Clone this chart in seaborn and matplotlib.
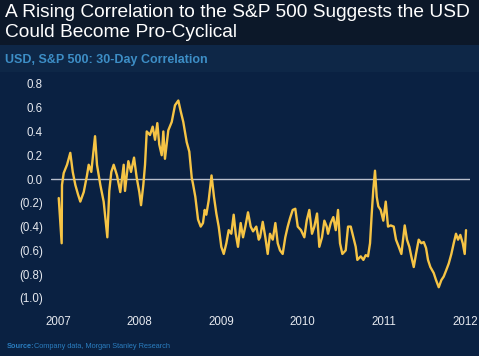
import numpy as np
import pandas as pd
import matplotlib.pyplot as plt
import seaborn as sns
from matplotlib.patches import Rectangle

# --- Data (decimal year, 30-day correlation) ---
years = [
    2007.009, 2007.045, 2007.049, 2007.070, 2007.111, 2007.151, 2007.181, 2007.213,
    2007.246, 2007.274, 2007.316, 2007.356, 2007.377, 2007.409, 2007.455, 2007.479,
    2007.520, 2007.561, 2007.606, 2007.630, 2007.655, 2007.684, 2007.725, 2007.765,
    2007.807, 2007.823, 2007.864, 2007.897, 2007.934, 2007.967, 2007.999, 2008.020,
    2008.048, 2008.069, 2008.090, 2008.130, 2008.163, 2008.192, 2008.220, 2008.244,
    2008.274, 2008.294, 2008.314, 2008.355, 2008.397, 2008.437, 2008.478, 2008.507,
    2008.539, 2008.581, 2008.613, 2008.643, 2008.658, 2008.687, 2008.720, 2008.753,
    2008.781, 2008.802, 2008.822, 2008.851, 2008.886, 2008.916, 2008.945, 2008.974,
    2009.006, 2009.036, 2009.068, 2009.097, 2009.129, 2009.158, 2009.183, 2009.211,
    2009.244, 2009.273, 2009.301, 2009.334, 2009.367, 2009.396, 2009.436, 2009.466,
    2009.482, 2009.515, 2009.547, 2009.576, 2009.604, 2009.638, 2009.670, 2009.699,
    2009.727, 2009.760, 2009.792, 2009.822, 2009.850, 2009.883, 2009.915, 2009.945,
    2009.985, 2010.026, 2010.055, 2010.087, 2010.120, 2010.149, 2010.182, 2010.210,
    2010.243, 2010.272, 2010.301, 2010.317, 2010.350, 2010.382, 2010.412, 2010.440,
    2010.464, 2010.493, 2010.534, 2010.563, 2010.596, 2010.628, 2010.657, 2010.677,
    2010.719, 2010.751, 2010.780, 2010.808, 2010.833, 2010.854, 2010.873, 2010.894,
    2010.915, 2010.935, 2010.964, 2010.996, 2011.026, 2011.054, 2011.087, 2011.124,
    2011.152, 2011.186, 2011.218, 2011.259, 2011.287, 2011.316, 2011.340, 2011.370,
    2011.398, 2011.431, 2011.463, 2011.493, 2011.521, 2011.545, 2011.574, 2011.615,
    2011.644, 2011.677, 2011.709, 2011.738, 2011.767, 2011.800, 2011.832, 2011.861,
    2011.889, 2011.914, 2011.942, 2011.972, 2011.996, 2012.012,
]
correlation = [
    -0.16, -0.54, -0.05, 0.05, 0.12, 0.22, 0.06, -0.05,
    -0.13, -0.19, -0.11, 0.03, 0.12, 0.06, 0.36, 0.12,
    -0.05, -0.19, -0.49, -0.10, 0.06, 0.12, 0.03, -0.11,
    0.12, -0.10, 0.15, 0.06, 0.18, 0.01, -0.11, -0.22,
    -0.05, 0.12, 0.40, 0.37, 0.44, 0.33, 0.47, 0.29,
    0.20, 0.40, 0.17, 0.41, 0.48, 0.62, 0.66, 0.57,
    0.48, 0.31, 0.23, 0.01, -0.04, -0.15, -0.34, -0.40,
    -0.37, -0.26, -0.30, -0.18, 0.03, -0.15, -0.29, -0.40,
    -0.57, -0.63, -0.54, -0.43, -0.46, -0.30, -0.46, -0.57,
    -0.37, -0.49, -0.40, -0.28, -0.40, -0.44, -0.40, -0.51,
    -0.49, -0.36, -0.49, -0.63, -0.46, -0.51, -0.37, -0.54,
    -0.60, -0.63, -0.49, -0.40, -0.33, -0.26, -0.25, -0.40,
    -0.43, -0.49, -0.35, -0.26, -0.46, -0.40, -0.29, -0.57,
    -0.49, -0.35, -0.40, -0.46, -0.37, -0.32, -0.43, -0.26,
    -0.54, -0.63, -0.60, -0.40, -0.40, -0.49, -0.57, -0.68,
    -0.65, -0.68, -0.64, -0.65, -0.54, -0.29, -0.09, 0.07,
    -0.15, -0.23, -0.26, -0.35, -0.19, -0.40, -0.39, -0.40,
    -0.51, -0.57, -0.63, -0.39, -0.51, -0.57, -0.65, -0.74,
    -0.63, -0.51, -0.54, -0.53, -0.58, -0.68, -0.74, -0.79,
    -0.85, -0.91, -0.85, -0.82, -0.77, -0.71, -0.63, -0.54,
    -0.46, -0.51, -0.47, -0.54, -0.63, -0.43,
]
y_ticks = [0.8, 0.6, 0.4, 0.2, 0.0, -0.2, -0.4, -0.6, -0.8, -1.0]
x_ticks = [2007, 2008, 2009, 2010, 2011, 2012]

df = pd.DataFrame({'year': years, 'corr': correlation})

# --- Colors ---
bg = '#0a2142'
title_bg = '#0c1829'
sub_bg = '#0e2747'
line_color = '#f6c445'
text_color = '#e6e9ef'

sns.set_theme(style='white')
plt.rcParams['font.family'] = ['Liberation Sans', 'DejaVu Sans']

fig = plt.figure(figsize=(4.79, 3.56), dpi=100, facecolor=bg)
fig.patches.append(Rectangle((0, 1 - 45 / 356), 1, 45 / 356, transform=fig.transFigure,
                             facecolor=title_bg, edgecolor='none', zorder=0))
fig.patches.append(Rectangle((0, 1 - 72 / 356), 1, 27 / 356, transform=fig.transFigure,
                             facecolor=sub_bg, edgecolor='none', zorder=0))

ax = fig.add_axes([51 / 479, 1 - 302 / 356, 419 / 479, 228 / 356])
ax.set_facecolor(bg)

sns.lineplot(data=df, x='year', y='corr', ax=ax, color=line_color, linewidth=1.7)
ax.axhline(0, color='#b8bfcc', linewidth=1.0, zorder=1)

ax.set_xlim(2006.914, 2012.061)
ax.set_ylim(-1.034, 0.883)
ax.set_xticks(x_ticks)
ax.set_xticklabels([str(t) for t in x_ticks])
ax.set_yticks(y_ticks)
ax.set_yticklabels([f'{v:.1f}' if v >= 0 else f'({abs(v):.1f})' for v in y_ticks])
ax.tick_params(axis='both', length=0, colors=text_color, labelsize=8.3)
ax.tick_params(axis='y', pad=6)
ax.tick_params(axis='x', pad=10)
ax.set_xlabel('')
ax.set_ylabel('')
sns.despine(ax=ax, left=True, bottom=True)
ax.grid(False)

# --- Titles ---
fig.text(5 / 479, 1 - 17 / 356, 'A Rising Correlation to the S&P 500 Suggests the USD',
         color='white', fontsize=13.8, va='baseline', ha='left')
fig.text(5 / 479, 1 - 37 / 356, 'Could Become Pro-Cyclical',
         color='white', fontsize=13.8, va='baseline', ha='left')
fig.text(5 / 479, 1 - 60 / 356, 'USD, S&P 500: 30-Day Correlation',
         color='#3d8ec6', fontsize=9.0, fontweight='bold', va='center', ha='left')
fig.text(7 / 479, 1 - 347 / 356, 'Source:', color='#2a7dbf', fontsize=5.3,
         fontweight='bold', va='center', ha='left')
fig.text(34 / 479, 1 - 347 / 356, 'Company data, Morgan Stanley Research', color='#2a7dbf',
         fontsize=5.3, va='center', ha='left')

fig.savefig('out.png', dpi=100, facecolor=bg)
